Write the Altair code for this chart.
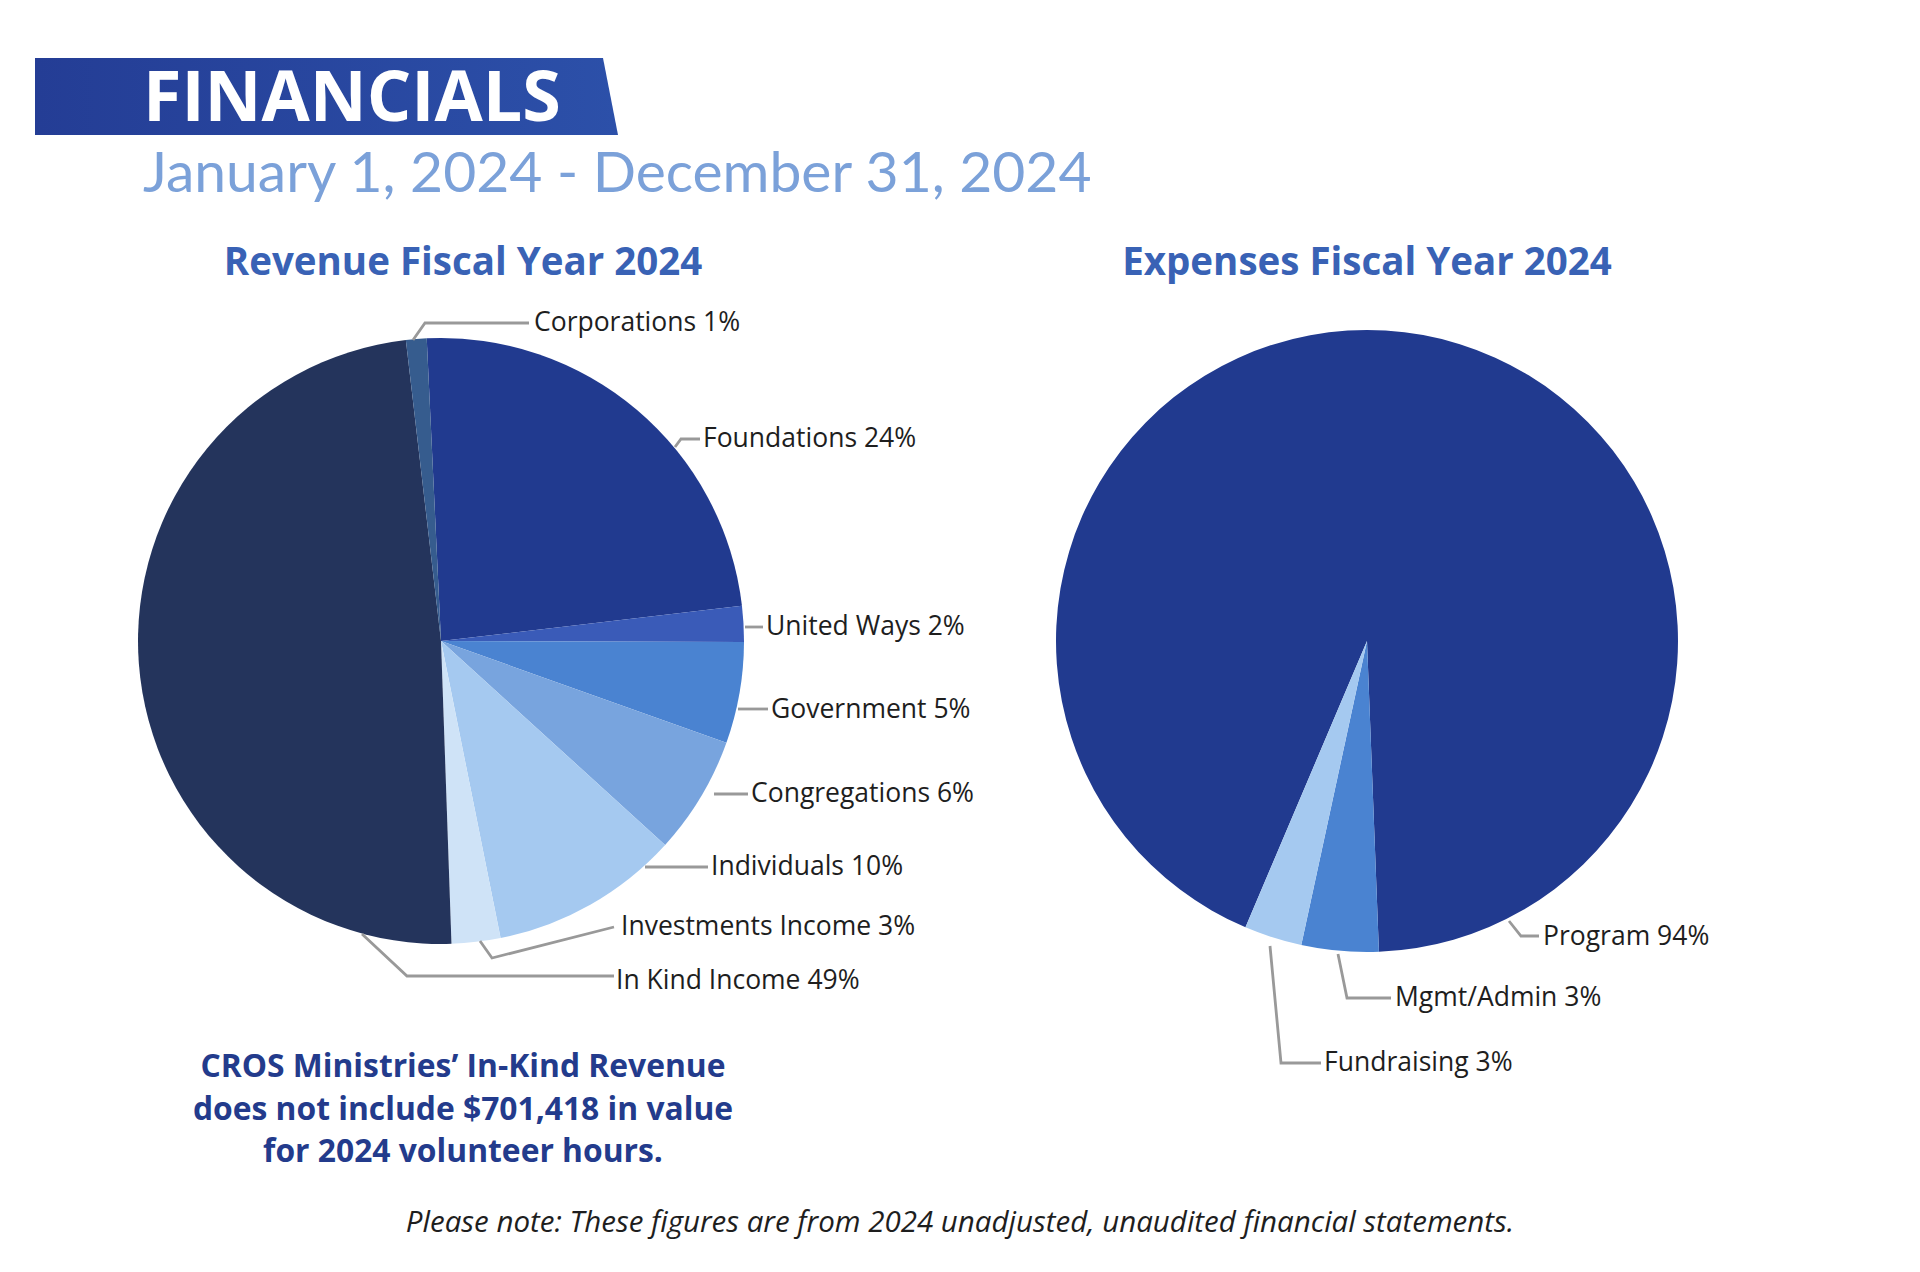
import math
import altair as alt
import pandas as pd

# ---------------- data ----------------
rev_categories = ["Foundations", "United Ways", "Government", "Congregations",
                  "Individuals", "Investments Income", "In Kind Income", "Corporations"]
rev_values = [23.9, 1.9, 5.4, 6.3, 10.1, 2.6, 48.7, 1.1]
rev_labels = ["Foundations 24%", "United Ways 2%", "Government 5%", "Congregations 6%",
              "Individuals 10%", "Investments Income 3%", "In Kind Income 49%", "Corporations 1%"]

exp_categories = ["Program", "Mgmt/Admin", "Fundraising"]
exp_values = [93.0, 4.0, 3.0]
exp_labels = ["Program 94%", "Mgmt/Admin 3%", "Fundraising 3%"]

title_text = "FINANCIALS"
date_text = "January 1, 2024 - December 31, 2024"
rev_title = "Revenue Fiscal Year 2024"
exp_title = "Expenses Fiscal Year 2024"
note_lines = ["CROS Ministries\u2019 In-Kind Revenue",
              "does not include $701,418  in value",
              "for 2024 volunteer hours."]
footer_text = "Please note: These figures are from 2024 unadjusted, unaudited financial statements."

# ---------------- styles / layout ----------------
rev_colors = ["#213a8f", "#3a5bb8", "#4a83d1", "#78a4de", "#a5c9f0", "#cfe3f7", "#24345c", "#365c8e"]
exp_colors = ["#213a8f", "#4a83d1", "#a5c9f0"]
FONT = "Open Sans"
W, H = 1880, 1240
OFF = 8  # page margin

REV_C = (441, 641, 303)
EXP_C = (1367, 641, 311)
rev_start = -2.7   # degrees, clockwise from 12 o'clock
exp_start = -157.0

# leader lines (page coords) and label anchor points
rev_leaders = [
    [(675, 447), (681, 439), (700, 439)],
    [(745, 627), (763, 627)],
    [(738, 709), (768, 709)],
    [(714, 794), (748, 794)],
    [(645, 867), (708, 867)],
    [(480, 941), (492, 958), (614, 927)],
    [(362, 934), (407, 976), (614, 976)],
    [(413, 340), (425, 323), (529, 323)],
]
rev_label_pos = [(703, 439), (766, 627), (771, 710), (751, 794), (711, 867),
                 (621, 927), (616, 981), (534, 323)]
exp_leaders = [
    [(1509, 921), (1521, 936), (1539, 936)],
    [(1338, 954), (1347, 998), (1391, 998)],
    [(1270, 946), (1281, 1063), (1321, 1063)],
]
exp_label_pos = [(1543, 937), (1395, 998), (1324, 1063)]

xs = alt.Scale(domain=[OFF, W + OFF], nice=False, zero=False)
ys = alt.Scale(domain=[OFF, H + OFF], nice=False, zero=False, reverse=True)


def pie(cats, vals, colors, center, start):
    cx, cy, r = center
    df = pd.DataFrame({"cat": cats, "val": vals, "idx": list(range(len(cats)))})
    s = math.radians(start)
    return alt.Chart(df).mark_arc(radius=r, strokeWidth=0).encode(
        theta=alt.Theta("val:Q", stack=True, scale=alt.Scale(range=[s, s + 2 * math.pi])),
        color=alt.Color("cat:N", scale=alt.Scale(domain=cats, range=colors), legend=None),
        order=alt.Order("idx:Q"),
        x=alt.value(cx - OFF),
        y=alt.value(cy - OFF),
    )


rev_pie = pie(rev_categories, rev_values, rev_colors, REV_C, rev_start)
exp_pie = pie(exp_categories, exp_values, exp_colors, EXP_C, exp_start)

# leader lines
rows = []
for gi, pts in enumerate(rev_leaders + exp_leaders):
    for k, (px, py) in enumerate(pts):
        rows.append({"g": gi, "k": k, "x": px, "y": py})
lines = alt.Chart(pd.DataFrame(rows)).mark_line(color="#999999", strokeWidth=2.8).encode(
    x=alt.X("x:Q", scale=xs, axis=None),
    y=alt.Y("y:Q", scale=ys, axis=None),
    detail="g:N",
    order="k:Q",
)

# slice labels
lab_rows = [{"x": p[0], "y": p[1], "t": t} for p, t in zip(rev_label_pos, rev_labels)]
lab_rows += [{"x": p[0], "y": p[1], "t": t} for p, t in zip(exp_label_pos, exp_labels)]
labels = alt.Chart(pd.DataFrame(lab_rows)).mark_text(
    font=FONT, fontSize=26.5, color="#1e1e1e", align="left", baseline="middle"
).encode(x=alt.X("x:Q", scale=xs, axis=None), y=alt.Y("y:Q", scale=ys, axis=None), text="t:N")

# banner
banner_df = pd.DataFrame({"x": [35, 603, 618], "y": [58, 58, 135], "y2": [135, 135, 135]})
banner = alt.Chart(banner_df).mark_area(
    color=alt.Gradient(gradient="linear", x1=0, x2=1, y1=0, y2=0,
                       stops=[alt.GradientStop(color="#243d95", offset=0),
                              alt.GradientStop(color="#2c50a9", offset=1)])
).encode(
    x=alt.X("x:Q", scale=xs, axis=None),
    y=alt.Y("y:Q", scale=ys, axis=None),
    y2="y2:Q",
)


def text_layer(items, font=FONT, **kw):
    df = pd.DataFrame([{"x": a, "y": b, "t": t} for a, b, t in items])
    return alt.Chart(df).mark_text(font=font, **kw).encode(
        x=alt.X("x:Q", scale=xs, axis=None), y=alt.Y("y:Q", scale=ys, axis=None), text="t:N")


t_title = text_layer([(143, 121, title_text)], fontSize=70, fontWeight="bold", color="#ffffff",
                     align="left", baseline="alphabetic")
t_date = text_layer([(143, 192, date_text)], font="Lato", fontSize=57, color="#7ba1d9",
                    align="left", baseline="alphabetic")
t_sec = text_layer([(463, 275, rev_title), (1367, 275, exp_title)], fontSize=38.5,
                   fontWeight="bold", color="#3962b5", align="center", baseline="alphabetic")
t_note = text_layer([(463, 1077, note_lines[0]), (463, 1120, note_lines[1]), (463, 1162, note_lines[2])],
                    fontSize=31.8, fontWeight="bold", color="#233b8c", align="center", baseline="alphabetic")
t_foot = text_layer([(960, 1232, footer_text)], fontSize=29.5, fontStyle="italic", color="#1e1e1e",
                    align="center", baseline="alphabetic")

chart = alt.layer(
    banner, rev_pie, exp_pie, lines, labels, t_title, t_date, t_sec, t_note, t_foot
).resolve_scale(theta="independent", color="independent").properties(
    width=W, height=H, padding=0,
    autosize=alt.AutoSizeParams(type="none"),
).configure_view(stroke="transparent", strokeWidth=0, fill="transparent")

chart.save("out.html", embed_options={"renderer": "svg", "actions": False})
